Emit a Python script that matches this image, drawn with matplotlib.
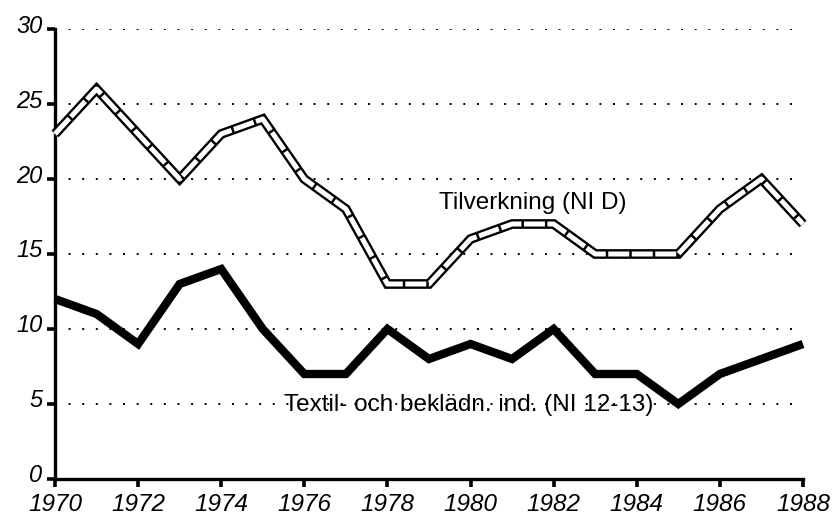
import matplotlib
matplotlib.use("Agg")
import matplotlib.pyplot as plt
import matplotlib.transforms as mtransforms

years = list(range(1970, 1989))
tilverkning = [23, 26, 23, 20, 23, 24, 20, 18, 13, 13, 16, 17, 17, 15, 15, 15, 18, 20, 17]
textil = [12, 11, 9, 13, 14, 10, 7, 7, 10, 8, 9, 8, 10, 7, 7, 5, 7, 8, 9]
xticks = list(range(1970, 1989, 2))
yticks = [0, 5, 10, 15, 20, 25, 30]

plt.rcParams['font.family'] = ['Liberation Sans', 'DejaVu Sans']

fig = plt.figure(figsize=(8.32, 5.19), dpi=100)
ax = fig.add_axes([0.0661, 0.0771, 0.899, 0.867])

# dotted grid
ax.set_yticks(yticks)
ax.grid(axis='y', color='black', linestyle=(0, (1, 6)), linewidth=1.4)
ax.set_axisbelow(True)

# Tilverkning: double line with cross bars
ax.plot(years, tilverkning, color='black', lw=7, solid_capstyle='butt',
        solid_joinstyle='miter', clip_on=False, zorder=3)
ax.plot(years, tilverkning, color='white', lw=3.6, linestyle=(0, (4.2, 0.5)),
        dash_capstyle='butt', solid_joinstyle='miter', clip_on=False, zorder=4)

# Textil
ax.plot(years, textil, color='black', lw=6, solid_capstyle='butt',
        solid_joinstyle='miter', clip_on=False, zorder=3)

ax.text(1981.5, 18.4, 'Tilverkning (NI D)', fontsize=17.5, ha='center', va='center')
ax.text(1975.5, 4.9, 'Textil- och beklädn. ind. (NI 12-13)', fontsize=17.5,
        ha='left', va='center')

ax.set_xlim(1970, 1988)
ax.set_ylim(0, 30)
ax.set_xticks(xticks)
ax.set_xticklabels([str(x) for x in xticks], fontsize=17.5, style='italic')
ax.set_yticklabels([str(y) for y in yticks], fontsize=17, style='italic')

for s in ['top', 'right']:
    ax.spines[s].set_visible(False)
for s in ['left', 'bottom']:
    ax.spines[s].set_linewidth(2.4)
ax.tick_params(axis='x', length=6, width=2.6, pad=4)
ax.tick_params(axis='y', length=6, width=2.6, pad=3)

# y labels sit a little above their ticks
shift = mtransforms.ScaledTranslation(0, 0.055, fig.dpi_scale_trans)
for tick in ax.yaxis.get_major_ticks():
    tick.label1.set_transform(tick.label1.get_transform() + shift)

fig.savefig('out.png', dpi=100)
